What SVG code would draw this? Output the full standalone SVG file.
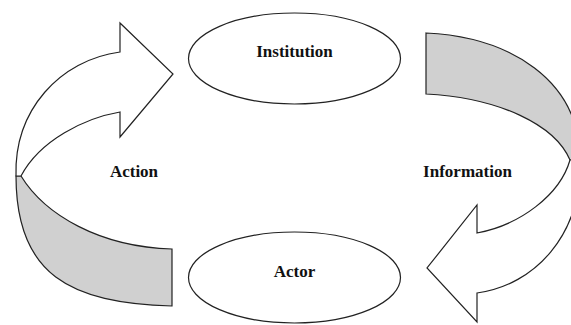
<svg xmlns="http://www.w3.org/2000/svg" width="571" height="325" viewBox="0 0 571 325">
<style>
.ln{stroke:#222;stroke-width:1.2;stroke-linejoin:miter}
.front{fill:#fff}
.back{fill:#d0d0d0}
.node{fill:#fff;stroke:#222;stroke-width:1.2}
.t{font-family:"Liberation Serif","Times New Roman",serif;font-weight:bold;font-size:17px;fill:#111;text-anchor:middle}
</style>
<rect width="571" height="325" fill="#fff"/>
<g id="connectors">
  <g id="action-arrow">
    <path class="ln back" d="M 21,176 C 45,215 100,247 172,249 L 172,306 C 70,303 16,275 16,176 Z"/>
    <path class="ln front" d="M 120,52 L 120,23 L 173,74 L 120,137 L 120,112 C 85,118 40,140 21,176 L 16,176 C 14,110 60,60 120,52 Z"/>
  </g>
  <g id="information-arrow">
    <path class="ln back" d="M 570,160 C 555,125 500,98 426,94 L 426,33 C 510,37 580,80 580,160 Z"/>
    <path class="ln front" d="M 477,293 L 477,322 L 427,268 L 477,205 L 477,233 C 520,225 560,195 570,160 L 580,160 C 582,235 535,285 477,293 Z"/>
  </g>
  <text class="t" x="134" y="177">Action</text>
  <text class="t" x="467.5" y="177">Information</text>
</g>
<g id="institution">
  <ellipse class="node" cx="294.5" cy="58.5" rx="106" ry="45.5"/>
  <text class="t" x="294.5" y="57">Institution</text>
</g>
<g id="actor">
  <ellipse class="node" cx="294.5" cy="277.5" rx="106" ry="45.5"/>
  <text class="t" x="294.5" y="277">Actor</text>
</g>
</svg>
